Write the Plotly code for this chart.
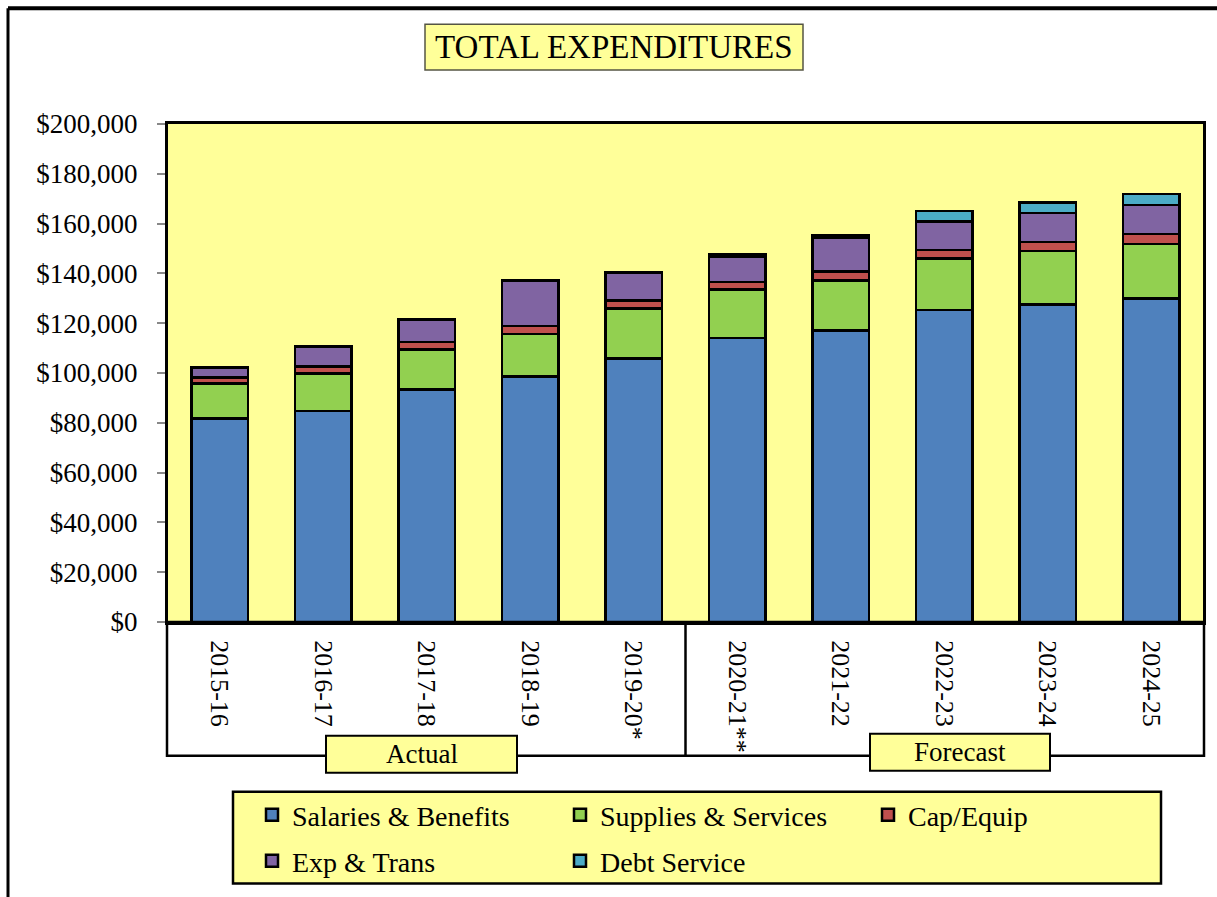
import plotly.graph_objects as go

# Fiscal years and expenditure categories (dollars)
years = ["2015-16", "2016-17", "2017-18", "2018-19", "2019-20*",
         "2020-21**", "2021-22", "2022-23", "2023-24", "2024-25"]
salaries = [81800, 84800, 93300, 98500, 105800, 114000, 117000, 125300, 127600, 130000]
supplies = [13900, 15000, 16100, 17200, 20100, 19600, 20200, 20700, 21400, 21900]
cap_equip = [2500, 2900, 3100, 3100, 3300, 2900, 3600, 3500, 3700, 4000]
exp_trans = [4100, 8000, 8900, 18400, 11100, 10200, 13500, 11300, 11500, 11600]
debt_service = [0, 0, 0, 0, 0, 1000, 1000, 4300, 4300, 4300]

W, H = 1217, 897
PL, PR, PT, PB = 168, 1203, 124, 623  # plot area in pixels
FONT = "Palatino Linotype, Book Antiqua, Liberation Serif, serif"


def px(x):
    return (x - PL) / (PR - PL)


def py(y):
    return (PB - y) / (PB - PT)


series = [
    ("Salaries & Benefits", salaries, "#4F81BD", "legend"),
    ("Supplies & Services", supplies, "#92D050", "legend"),
    ("Cap/Equip", cap_equip, "#C0504D", "legend"),
    ("Exp & Trans", exp_trans, "#8064A2", "legend2"),
    ("Debt Service", debt_service, "#4BACC6", "legend2"),
]

fig = go.Figure()
for name, vals, color, leg in series:
    fig.add_trace(go.Bar(
        x=years, y=vals, name=name, legend=leg,
        marker=dict(color=color, line=dict(color="black", width=2.5)),
    ))

shapes = []
# outer frame (top and left edges)
shapes.append(dict(type="line", xref="paper", yref="paper",
                   x0=px(8), x1=px(1230), y0=py(8), y1=py(8),
                   line=dict(color="black", width=4)))
shapes.append(dict(type="line", xref="paper", yref="paper",
                   x0=px(8), x1=px(8), y0=py(8), y1=py(910),
                   line=dict(color="black", width=3)))
# title box
shapes.append(dict(type="rect", xref="paper", yref="paper",
                   x0=px(425), x1=px(803), y0=py(24), y1=py(70),
                   fillcolor="#FFFF99", line=dict(color="#555544", width=1.5)))
# category label box and the actual/forecast divider
shapes.append(dict(type="rect", xref="paper", yref="paper",
                   x0=px(167), x1=px(1204), y0=py(623), y1=py(757),
                   fillcolor="rgba(0,0,0,0)", line=dict(color="black", width=2.5)))
shapes.append(dict(type="line", xref="x", yref="paper",
                   x0=4.5, x1=4.5, y0=py(623), y1=py(757),
                   line=dict(color="black", width=2.5)))
# Actual / Forecast tags
shapes.append(dict(type="rect", xref="paper", yref="paper",
                   x0=px(326), x1=px(517), y0=py(737), y1=py(774),
                   fillcolor="#FFFF99", line=dict(color="black", width=2)))
shapes.append(dict(type="rect", xref="paper", yref="paper",
                   x0=px(870), x1=px(1050), y0=py(735), y1=py(772),
                   fillcolor="#FFFF99", line=dict(color="black", width=2)))
# legend box
shapes.append(dict(type="rect", xref="paper", yref="paper",
                   x0=px(233), x1=px(1161), y0=py(793), y1=py(885),
                   fillcolor="#FFFF99", line=dict(color="black", width=2.5)))

annotations = [
    dict(text="TOTAL EXPENDITURES", xref="paper", yref="paper",
         x=px(614), y=py(47), showarrow=False, xanchor="center", yanchor="middle",
         font=dict(family=FONT, size=33, color="black")),
    dict(text="Actual", xref="paper", yref="paper",
         x=px(421.5), y=py(755.5), showarrow=False, xanchor="center", yanchor="middle",
         font=dict(family=FONT, size=27, color="black")),
    dict(text="Forecast", xref="paper", yref="paper",
         x=px(960), y=py(753.5), showarrow=False, xanchor="center", yanchor="middle",
         font=dict(family=FONT, size=27, color="black")),
]

legend_common = dict(
    orientation="h", xanchor="left", yanchor="middle",
    bgcolor="rgba(0,0,0,0)", borderwidth=0,
    entrywidth=263, entrywidthmode="pixels",
    font=dict(family=FONT, size=28, color="black"),
    traceorder="normal",
)

fig.update_layout(
    width=W, height=H,
    margin=dict(l=PL, r=W - PR, t=PT, b=H - PB, pad=0),
    paper_bgcolor="white", plot_bgcolor="#FFFF99",
    barmode="stack", bargap=0.45,
    font=dict(family=FONT, size=26, color="black"),
    showlegend=True,
    legend=dict(x=px(252), y=py(815), **legend_common),
    legend2=dict(x=px(252), y=py(861), **legend_common),
    shapes=shapes, annotations=annotations,
    xaxis=dict(
        type="category", tickangle=90, showgrid=False,
        showline=True, linecolor="black", linewidth=3, mirror=True,
        ticks="", ticklabelstandoff=10,
        tickfont=dict(family=FONT, size=26, color="black"),
    ),
    yaxis=dict(
        range=[0, 200000], dtick=20000, tickprefix="$", tickformat=",d",
        showgrid=False, zeroline=False,
        showline=True, linecolor="black", linewidth=3, mirror=True,
        ticks="outside", ticklen=8, tickwidth=1.5, tickcolor="#888888",
        ticklabelstandoff=14,
        tickfont=dict(family=FONT, size=27, color="black"),
    ),
)

fig.write_html("out.html")
